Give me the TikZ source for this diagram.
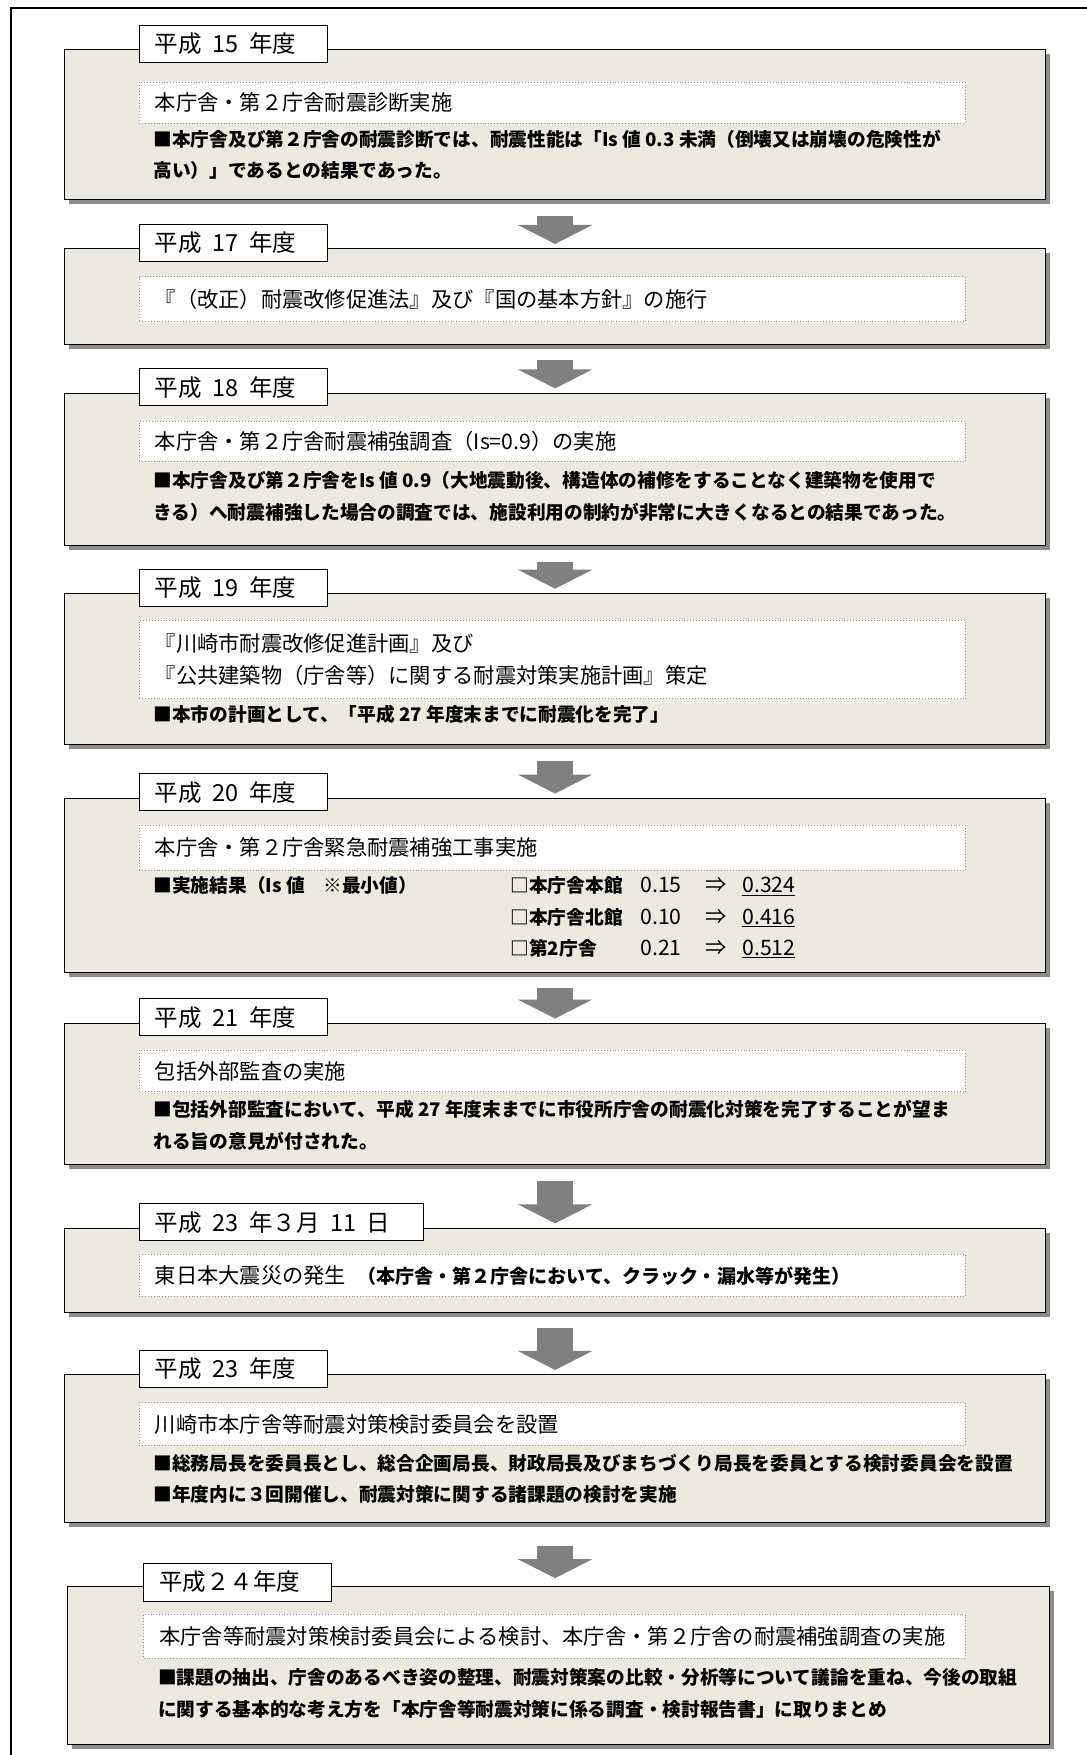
\documentclass[tikz,border=0pt]{standalone}
\usepackage{fontspec}
\setmainfont{Noto Sans CJK JP}
\usetikzlibrary{shadows,arrows.meta}
\definecolor{boxbg}{RGB}{236,233,223}
\definecolor{shadowgray}{RGB}{140,140,140}
\definecolor{arrowgray}{RGB}{128,128,128}
\definecolor{dotgray}{RGB}{150,150,150}
\newcommand{\jsp}{\hspace{.45em}}

\begin{document}
\begin{tikzpicture}[x=1pt,y=-1pt,
    mainbox/.style={draw,line width=0.9pt,fill=boxbg,anchor=north west,inner sep=0pt,minimum width=877pt,
      drop shadow={shadow xshift=4pt,shadow yshift=-4pt,fill=shadowgray,opacity=1}},
    yearbox/.style={draw,line width=0.8pt,fill=white,anchor=north west,minimum height=33pt,inner xsep=14pt,
      inner ysep=0pt,text width=140pt,align=left,font=\fontsize{21}{24}\selectfont},
    eventbox/.style={draw=dotgray,line width=0.6pt,dotted,fill=white,anchor=north west,inner xsep=14pt,
      inner ysep=0pt,text width=710pt,align=left,font=\fontsize{19}{28}\selectfont},
    note/.style={anchor=west,inner sep=0pt,text height=0.88em,text depth=0.12em,
      font=\fontsize{16.7}{20}\selectfont\bfseries},
    val/.style={anchor=west,inner sep=0pt,text height=0.88em,text depth=0.12em,font=\fontsize{19}{22}\selectfont},
    flow/.style={arrowgray,line width=32pt,-{Triangle[width=66pt,length=17pt]},shorten <=14pt,shorten >=4pt}]

    \useasboundingbox (0,0) rectangle (971,1568);
    \draw[line width=1.4pt] (10,1568) -- (10,7) -- (971,7);

    \node[mainbox,minimum height=134pt] (b1) at (57,44) {};
    \node[yearbox] (y1) at (124,22) {平成\jsp{}15\jsp{}年度};
    \node[eventbox,minimum height=37pt] (e1) at (124,73) {本庁舎・第２庁舎耐震診断実施};
    \node[note] (n1a) at (137,127) {■本庁舎及び第２庁舎の耐震診断では、耐震性能は「Is 値 0.3 未満（倒壊又は崩壊の危険性が};
    \node[note] (n1b) at (137,155) {高い）」であるとの結果であった。};

    \node[mainbox,minimum height=85pt] (b2) at (57,222) {};
    \node[yearbox] (y2) at (124,200) {平成\jsp{}17\jsp{}年度};
    \node[eventbox,minimum height=40pt] (e2) at (124,247) {『（改正）耐震改修促進法』及び『国の基本方針』の施行};

    \node[mainbox,minimum height=136pt] (b3) at (57,351) {};
    \node[yearbox] (y3) at (124,329) {平成\jsp{}18\jsp{}年度};
    \node[eventbox,minimum height=36pt] (e3) at (124,376) {本庁舎・第２庁舎耐震補強調査（Is=0.9）の実施};
    \node[note] (n3a) at (137,432) {■本庁舎及び第２庁舎をIs 値 0.9（大地震動後、構造体の補修をすることなく建築物を使用で};
    \node[note] (n3b) at (137,460) {きる）へ耐震補強した場合の調査では、施設利用の制約が非常に大きくなるとの結果であった。};

    \node[mainbox,minimum height=135pt] (b4) at (57,530) {};
    \node[yearbox] (y4) at (124,508) {平成\jsp{}19\jsp{}年度};
    \node[eventbox,minimum height=70pt] (e4) at (124,554) {『川崎市耐震改修促進計画』及び\\『公共建築物（庁舎等）に関する耐震対策実施計画』策定};
    \node[note] (n4a) at (137,641) {■本市の計画として、「平成 27 年度末までに耐震化を完了」};

    \node[mainbox,minimum height=155pt] (b5) at (57,713) {};
    \node[yearbox] (y5) at (124,691) {平成\jsp{}20\jsp{}年度};
    \node[eventbox,minimum height=40pt] (e5) at (124,737) {本庁舎・第２庁舎緊急耐震補強工事実施};
    \node[note] (n5a) at (137,794) {■実施結果（Is 値　※最小値）};
    \node[note] (n5b) at (456,794) {□本庁舎本館};
    \node[note] (n5c) at (456,822) {□本庁舎北館};
    \node[note] (n5d) at (456,850) {□第2庁舎};
    \node[val] (v5b) at (572,794) {0.15};
    \node[val] (v5c) at (572,822) {0.10};
    \node[val] (v5d) at (572,850) {0.21};
    \node[val] (r5b) at (630,794) {⇒};
    \node[val] (r5c) at (630,822) {⇒};
    \node[val] (r5d) at (630,850) {⇒};
    \node[val] (w5b) at (663,794) {\underline{0.324}};
    \node[val] (w5c) at (663,822) {\underline{0.416}};
    \node[val] (w5d) at (663,850) {\underline{0.512}};

    \node[mainbox,minimum height=126pt] (b6) at (57,914) {};
    \node[yearbox] (y6) at (124,892) {平成\jsp{}21\jsp{}年度};
    \node[eventbox,minimum height=37pt] (e6) at (124,938) {包括外部監査の実施};
    \node[note] (n6a) at (137,994) {■包括外部監査において、平成 27 年度末までに市役所庁舎の耐震化対策を完了することが望ま};
    \node[note] (n6b) at (137,1022) {れる旨の意見が付された。};

    \node[mainbox,minimum height=75pt] (b7) at (57,1097) {};
    \node[yearbox,text width=226pt] (y7) at (124,1075) {平成\jsp{}23\jsp{}年３月\jsp{}11\jsp{}日};
    \node[eventbox,minimum height=38pt] (e7) at (124,1120) {東日本大震災の発生\hspace{10pt}{\fontsize{17}{20}\selectfont\bfseries （本庁舎・第２庁舎において、クラック・漏水等が発生）}};

    \node[mainbox,minimum height=132pt] (b8) at (57,1228) {};
    \node[yearbox] (y8) at (124,1206) {平成\jsp{}23\jsp{}年度};
    \node[eventbox,minimum height=38pt] (e8) at (124,1253) {川崎市本庁舎等耐震対策検討委員会を設置};
    \node[note] (n8a) at (137,1310) {■総務局長を委員長とし、総合企画局長、財政局長及びまちづくり局長を委員とする検討委員会を設置};
    \node[note] (n8b) at (137,1338) {■年度内に３回開催し、耐震対策に関する諸課題の検討を実施};

    \node[mainbox,minimum height=141pt] (b9) at (60,1417) {};
    \node[yearbox,minimum height=34pt] (y9) at (128,1396) {平成２４年度};
    \node[eventbox,minimum height=39pt,text width=706pt] (e9) at (128,1442) {本庁舎等耐震対策検討委員会による検討、本庁舎・第２庁舎の耐震補強調査の実施};
    \node[note] (n9a) at (141,1501) {■課題の抽出、庁舎のあるべき姿の整理、耐震対策案の比較・分析等について議論を重ね、今後の取組};
    \node[note] (n9b) at (141,1530) {に関する基本的な考え方を「本庁舎等耐震対策に係る調査・検討報告書」に取りまとめ};

    \draw[flow] (b1) -- (b2);
    \draw[flow] (b2) -- (b3);
    \draw[flow] (b3) -- (b4);
    \draw[flow] (b4) -- (b5);
    \draw[flow] (b5) -- (b6);
    \draw[flow] (b6) -- (b7);
    \draw[flow] (b7) -- (b8);
    \draw[flow,shorten <=20pt,shorten >=7pt] (b8.south) -- (b8.south |- b9.north);

\end{tikzpicture}
\end{document}
